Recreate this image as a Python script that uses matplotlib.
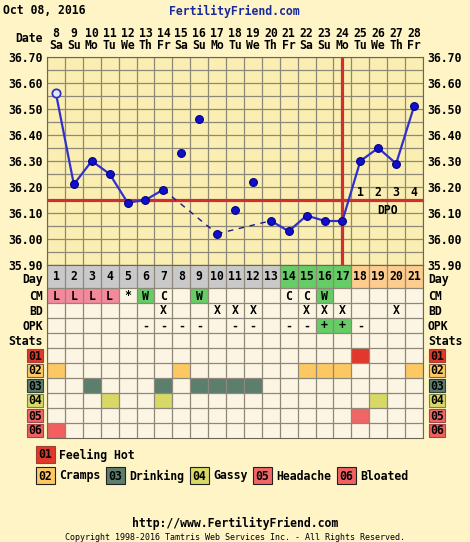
import matplotlib
matplotlib.use('Agg')
import matplotlib.pyplot as plt
from matplotlib.patches import Rectangle
from matplotlib.transforms import blended_transform_factory as blend

# ---- data ----
dates = [8, 9, 10, 11, 12, 13, 14, 15, 16, 17, 18, 19, 20, 21, 22, 23, 24, 25, 26, 27, 28]
weekdays = ['Sa', 'Su', 'Mo', 'Tu', 'We', 'Th', 'Fr', 'Sa', 'Su', 'Mo', 'Tu',
            'We', 'Th', 'Fr', 'Sa', 'Su', 'Mo', 'Tu', 'We', 'Th', 'Fr']
cycle_days = list(range(1, 22))
temps = [36.56, 36.21, 36.30, 36.25, 36.14, 36.15, 36.19, 36.33, 36.46, 36.02, 36.11,
         36.22, 36.07, 36.03, 36.09, 36.07, 36.07, 36.30, 36.35, 36.29, 36.51]
discarded = [7, 8, 10, 11]
open_points = [0]
coverline = 36.15
ovulation = 16
dpo_cols = [17, 18, 19, 20]
dpo_labels = ['1', '2', '3', '4']

day_phase = ['g'] * 13 + ['f'] * 4 + ['l'] * 4
cm = ['L', 'L', 'L', 'L', '*', 'W', 'C', '', 'W', '', '', '', '', 'C', 'C', 'W', '', '', '', '', '']
bd = ['', '', '', '', '', '', 'X', '', '', 'X', 'X', 'X', '', '', 'X', 'X', 'X', '', '', 'X', '']
opk = ['', '', '', '', '', '-', '-', '-', '-', '', '-', '-', '', '-', '-', '+', '+', '-', '', '', '']
stat_codes = ['01', '02', '03', '04', '05', '06']
stat_names = ['Feeling Hot', 'Cramps', 'Drinking', 'Gassy', 'Headache', 'Bloated']
stat_days = [[17], [0, 7, 14, 15, 16, 20], [2, 6, 8, 9, 10, 11], [3, 6, 18], [17], [0]]

# ---- style ----
PAGE = '#FEF4C6'
PLOT = '#FBEEB2'
CELL = '#FDF5E4'
GRID = '#8E8878'
BLUE = '#3030CC'
RED = '#CC3030'
phase_col = {'g': '#C9C9C9', 'f': '#66CC66', 'l': '#FECC8C'}
cm_col = {'L': '#F4899B', 'W': '#66CC66'}
stat_col = ['#E2372B', '#FDC862', '#5C7E6C', '#D8D866', '#F06666', '#F25F5F']
stat_edge = ['#A04030', '#806040', '#304038', '#808040', '#A04848', '#A04848']
FONT = dict(family='DejaVu Sans Mono', weight='bold', fontsize=8.3)

W, H = 470, 542
fig = plt.figure(figsize=(W / 100, H / 100), dpi=100, facecolor=PAGE)

PL, PR, PT, PB = 47, 423, 57, 265
TB = 438
ax = fig.add_axes([PL / W, 1 - PB / H, (PR - PL) / W, (PB - PT) / H], facecolor=PLOT)
tax = fig.add_axes([PL / W, 1 - TB / H, (PR - PL) / W, (TB - PB) / H], facecolor=CELL)
ov = fig.add_axes([0, 0, 1, 1])
ov.set_xlim(0, W)
ov.set_ylim(H, 0)
ov.axis('off')
ov.patch.set_visible(False)

n = len(dates)
# ---- temperature chart ----
ax.set_xlim(-0.5, n - 0.5)
ax.set_ylim(35.90, 36.70)
for i in range(n + 1):
    ax.axvline(i - 0.5, color=GRID, lw=0.9, zorder=1)
for k in range(17):
    ax.axhline(35.90 + k * 0.05, color=GRID, lw=0.9, zorder=1)
for s in ax.spines.values():
    s.set_color('#6A6658')
ax.set_xticks([])
yt = [35.90 + k * 0.1 for k in range(9)]
ax.set_yticks(yt)
ax.set_yticklabels(['%.2f' % v for v in yt], **FONT)
ax.tick_params(axis='y', length=0, pad=3, labelright=True)
for lab in ax.get_yticklabels(which='both'):
    lab.set_fontfamily('DejaVu Sans Mono')
    lab.set_fontweight('bold')

ax.axhline(coverline, color=RED, lw=2.3, zorder=3)
ax.axvline(ovulation, color=RED, lw=2.3, zorder=3)

kept = [i for i in range(n) if i not in discarded]
for a, b in zip(kept[:-1], kept[1:]):
    if b - a == 1:
        ax.plot([a, b], [temps[a], temps[b]], color=BLUE, lw=1.6, zorder=4)
    else:
        ax.plot([a, b], [temps[a], temps[b]], color='#1A1A88', lw=1.0,
                dashes=(4, 4), zorder=4)
for i in range(n):
    if i in open_points:
        ax.plot(i, temps[i], 'o', ms=6, mfc='#E6E6F6', mec=BLUE, mew=1.3, zorder=5)
    else:
        ax.plot(i, temps[i], 'o', ms=5.6, mfc='#1010CC', mec='#000080', mew=0.8, zorder=5)

for c, t in zip(dpo_cols, dpo_labels):
    ax.text(c, 36.18, t, ha='center', va='center', zorder=6, **FONT)
ax.text(sum(dpo_cols[1:3]) / 2, 36.11, 'DPO', ha='center', va='center', zorder=6, **FONT)

tr = blend(ax.transData, ax.transAxes)
for i in range(n):
    ax.text(i, 1.115, str(dates[i]), transform=tr, ha='center', va='center', **FONT)
    ax.text(i, 1.053, weekdays[i], transform=tr, ha='center', va='center', **FONT)
ov.text(43, 39, 'Date', ha='right', va='center', **FONT)
ov.text(3, 11, 'Oct 08, 2016', ha='left', va='center', **FONT)
ov.text(234, 11, 'FertilityFriend.com', ha='center', va='center', color='#1A2A9A', **FONT)

# ---- table ----
row_h = [23, 15, 15, 15, 15] + [15] * 6
tops = [sum(row_h[:r]) for r in range(len(row_h))]
tax.set_xlim(-0.5, n - 0.5)
tax.set_ylim(sum(row_h), 0)
tax.set_xticks([])
tax.set_yticks([])


def cell(col, row, color):
    tax.add_patch(Rectangle((col - 0.5, tops[row]), 1, row_h[row], facecolor=color,
                            edgecolor='none', zorder=1))


def ctext(col, row, s, **kw):
    tax.text(col, tops[row] + row_h[row] / 2 + 0.5, s, ha='center', va='center',
             zorder=3, **FONT, **kw)


for i in range(n):
    cell(i, 0, phase_col[day_phase[i]])
    ctext(i, 0, str(cycle_days[i]))
    if cm[i] in cm_col:
        cell(i, 1, cm_col[cm[i]])
    if cm[i]:
        ctext(i, 1, cm[i])
    if bd[i]:
        ctext(i, 2, bd[i])
    if opk[i] == '+':
        cell(i, 3, '#66CC66')
    if opk[i]:
        ctext(i, 3, opk[i])
for r, days in enumerate(stat_days):
    for d in days:
        cell(d, 5 + r, stat_col[r])

for i in range(n + 1):
    tax.axvline(i - 0.5, color=GRID, lw=0.9, zorder=2)
for t in tops[1:]:
    tax.axhline(t, color=GRID, lw=0.9, zorder=2)
for s in tax.spines.values():
    s.set_color('#6A6658')

row_names = ['Day', 'CM', 'BD', 'OPK', 'Stats']
for r, name in enumerate(row_names):
    yc = PB + tops[r] + row_h[r] / 2 + (2.5 if r == 0 else 1)
    ov.text(43, yc, name, ha='right', va='center', **FONT)
    ov.text(428, yc, name, ha='left', va='center', **FONT)
for r, code in enumerate(stat_codes):
    y0 = PB + tops[5 + r] + 1
    for x0 in (27, 429):
        ov.add_patch(Rectangle((x0, y0), 16, 13, facecolor=stat_col[r],
                               edgecolor=stat_edge[r], lw=0.8))
        ov.text(x0 + 8, y0 + 7, code, ha='center', va='center', **FONT)

# ---- legend ----
ov.add_patch(Rectangle((36, 446), 19, 17, facecolor=stat_col[0], edgecolor=stat_edge[0], lw=0.8))
ov.text(45.5, 455, stat_codes[0], ha='center', va='center', **FONT)
ov.text(59, 455, stat_names[0], ha='left', va='center', **FONT)
x = 36
for r in range(1, 6):
    ov.add_patch(Rectangle((x, 467), 19, 17, facecolor=stat_col[r], edgecolor='#202020', lw=0.8))
    ov.text(x + 9.5, 476, stat_codes[r], ha='center', va='center', **FONT)
    ov.text(x + 23, 476, stat_names[r], ha='left', va='center', **FONT)
    x += 19 + 4 + 7 * len(stat_names[r]) + 5

ov.text(235, 523, 'http://www.FertilityFriend.com', ha='center', va='center', **FONT)
ov.text(235, 538, 'Copyright 1998-2016 Tamtris Web Services Inc. - All Rights Reserved.',
        ha='center', va='center', family='DejaVu Sans Mono', fontsize=6)

fig.savefig('out.png', dpi=100, facecolor=PAGE)
